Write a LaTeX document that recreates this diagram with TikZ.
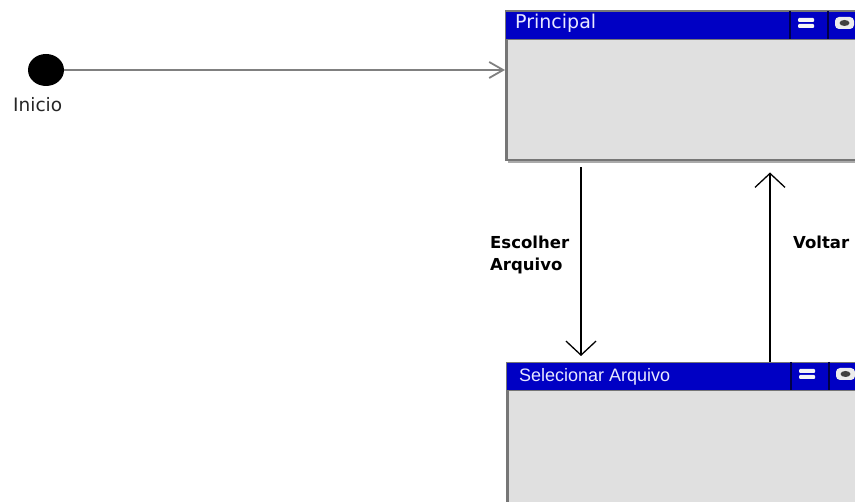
\documentclass[tikz,border=0pt]{standalone}
\usepackage{fontspec}
\setmainfont{DejaVu Sans}
\newfontfamily\arialfont{Liberation Sans}
\usetikzlibrary{arrows.meta,calc,shapes.geometric}
\definecolor{titleblue}{RGB}{0,0,196}
\definecolor{bodygray}{RGB}{224,224,224}
\definecolor{framegray}{RGB}{118,118,118}
\definecolor{shadowgray}{RGB}{170,170,170}
\definecolor{titletext}{RGB}{232,232,255}
\definecolor{sepblue}{RGB}{0,0,72}
\definecolor{flowgray}{RGB}{128,128,128}
\begin{document}
\begin{tikzpicture}[x=1pt,y=-1pt,
  statebody/.style={rectangle, anchor=north west, inner sep=0pt, fill=bodygray,
    draw=framegray, line width=2.5pt, minimum width=400pt},
  titlebar/.style={rectangle, anchor=north west, inner sep=0pt, fill=titleblue,
    draw=framegray, line width=1pt, minimum width=400pt, minimum height=28pt},
  titlelabel/.style={anchor=base west, inner sep=0pt, text=titletext},
  translabel/.style={anchor=base west, inner sep=0pt, align=left,
    font=\bfseries\fontsize{16.5}{22.5}\selectfont},
  trans/.style={draw=black, line width=1.3pt,
    -{Straight Barb[length=14pt,width=30pt,line width=1.3pt]}},
  initflow/.style={draw=flowgray, line width=1.8pt,
    -{Straight Barb[length=14pt,width=16pt,line width=1.8pt]}},
  winbuttons/.pic={
    \draw[sepblue, line width=1.5pt] (0,0) -- (0,28);
    \draw[sepblue, line width=1.5pt] (38,0) -- (38,28);
    \fill[white!92!gray, rounded corners=1pt] (8,7) rectangle (24,11);
    \fill[white!92!gray, rounded corners=1pt] (8,13) rectangle (24,17);
    \fill[gray!15, rounded corners=4pt] (45,6) rectangle (64,18);
    \fill[black!75] (54.5,12) ellipse (5pt and 3pt);
  }
]
\useasboundingbox (0,0) rectangle (855,502);
\clip (0,0) rectangle (855,502);

% initial pseudo-state
\node[ellipse, fill=black, minimum width=36pt, minimum height=32pt, inner sep=0pt]
  (inicio) at (46,70) {};
\node[anchor=base west, inner sep=0pt, text=black!85, font=\fontsize{18.5}{20}\selectfont]
  (iniciolabel) at (13,112) {Inicio};

% state: Principal
\draw[shadowgray, line width=3pt] (508,162) -- (880,162);
\node[statebody, minimum height=149pt] (principal) at (505,10) {};
\node[titlebar] (ptitle) at (505,11) {};
\node[titlelabel, font=\fontsize{19}{20}\selectfont] (ptext) at (515,29) {Principal};
\pic at (790,11) {winbuttons};

% state: Selecionar Arquivo
\node[statebody, minimum height=160pt] (selecionar) at (506,362) {};
\node[titlebar] (stitle) at (506,362) {};
\node[titlelabel, font=\arialfont\fontsize{18}{20}\selectfont] (stext) at (519,382) {Selecionar Arquivo};
\pic at (791,362) {winbuttons};

% transitions
\coordinate (downx) at (581,0);
\coordinate (upx) at (770,0);
\draw[initflow] (inicio.east) -- (inicio.east -| principal.west);
\draw[trans, shorten <=6pt, shorten >=6pt]
  (principal.south -| downx) -- (selecionar.north -| downx);
\draw[trans, shorten >=11pt]
  (selecionar.north -| upx) -- (principal.south -| upx);

% transition labels (anchored on the baseline of the last line)
\node[translabel] (escolher) at (490,271) {Escolher\\Arquivo};
\node[translabel] (voltar) at (793,249) {Voltar};
\end{tikzpicture}
\end{document}
